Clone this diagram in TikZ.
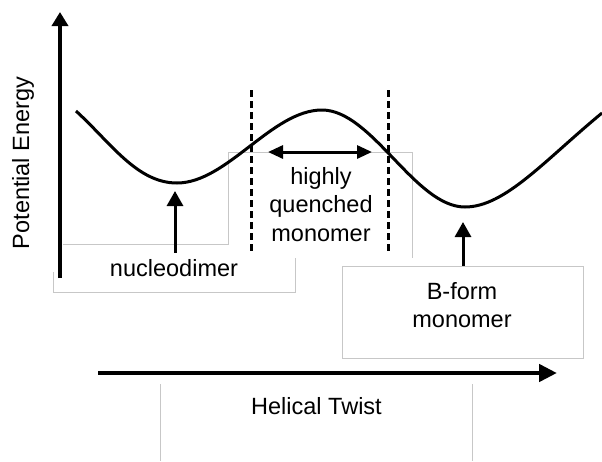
\documentclass[tikz,border=0pt]{standalone}
\usepackage{fontspec}
\setmainfont{Liberation Sans}
\usetikzlibrary{arrows.meta}
\begin{document}
\begin{tikzpicture}[x=1pt,y=-1pt,
  lbl/.style={font=\fontsize{23.5}{28.7}\selectfont, inner sep=0pt, align=center},
  frame/.style={draw=black!22, line width=1pt},
  axis/.style={line width=4.5pt},
  pointer/.style={line width=3pt, -{Triangle[length=15pt,width=16pt]}},
  twohead/.style={line width=3pt, {Triangle[length=15pt,width=13pt]}-{Triangle[length=15pt,width=13pt]}},
  curve/.style={line width=3pt},
  guide/.style={line width=3pt, dash pattern=on 7pt off 4pt}]
\useasboundingbox (0,0) rectangle (602,461);

% light frames of the text boxes
\draw[frame] (63,244) -- (228,244) -- (228,152) -- (412,152) -- (412,258);
\draw[frame] (53,272) -- (53,292) -- (295,292) -- (295,258);
\node[frame, minimum width=241pt, minimum height=92pt, inner sep=0pt] (bfbox) at (462.5,312) {};
\draw[frame] (160,384) -- (160,461);
\draw[frame] (472,384) -- (472,461);

% axes
\coordinate (origin) at (60,278);
\coordinate (ytop) at (60,12);
\coordinate (xstart) at (98,373);
\coordinate (xend) at (557,373);
\draw[axis, -{Triangle[length=14pt,width=16pt]}] (origin) -- (ytop);
\draw[axis, -{Triangle[length=18pt,width=17pt]}] (xstart) -- (xend);

% guides
\coordinate (g1t) at (251,90);
\coordinate (g1b) at (251,252);
\coordinate (g2t) at (388,90);
\coordinate (g2b) at (388,252);
\draw[guide] (g1t) -- (g1b);
\draw[guide] (g2t) -- (g2b);

% energy curve
\coordinate (cstart) at (76,111);
\coordinate (ndmin) at (177,183);
\coordinate (peak) at (322,110);
\coordinate (bfmin) at (465,207);
\coordinate (cend) at (602,113);
\draw[curve] (cstart) .. controls (111,143) and (137,183) .. (ndmin)
  .. controls (227,183) and (272,110) .. (peak)
  .. controls (372,110) and (415,207) .. (bfmin)
  .. controls (505,207) and (545,160) .. (cend);

% labels
\node[lbl, rotate=90] (pe) at (23,163) {Potential Energy};
\node[lbl] (nd) at (174,268.5) {nucleodimer};
\node[lbl] (hq) at (321,204.5) {highly\\quenched\\monomer};
\node[lbl, font=\fontsize{23.5}{27.3}\selectfont] (bf) at (462,305) {B-form\\monomer};
\node[lbl] (ht) at (316.5,406.5) {Helical Twist};

% pointers
\coordinate (hqL) at (268,152);
\coordinate (hqR) at (372,152);
\draw[twohead] (hqL) -- (hqR);
\draw[pointer, shorten <=7pt] (175,0 |- nd.north) -- (175,191);
\draw[pointer] (463,0 |- bfbox.north) -- (463,222);
\end{tikzpicture}
\end{document}
